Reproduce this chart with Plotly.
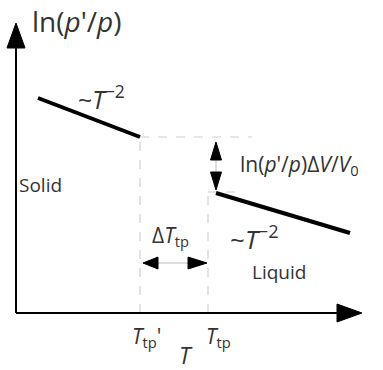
import plotly.graph_objects as go

# Chart coordinates: x is temperature T, y is ln(p'/p) (pixel-like units, y up)
W, H = 383, 370

# Axes
axis_origin = (16, 57)
x_axis_end = 362
y_axis_end = 347

# Coexistence lines (~T^-2 branches)
solid_T = [38, 140]
solid_lnp = [272, 233]
liquid_T = [216, 350]
liquid_lnp = [177, 137]

# Triple-point temperatures
T_tp_prime = 140
T_tp = 208

# Tick labels
tick_labels = ["<i>T</i><sub>tp</sub>'", "<i>T</i><sub>tp</sub>"]
tick_positions = [T_tp_prime + 6, T_tp + 10]

FONT = "Open Sans"
TXT = "#333333"
DASH = "#d0d0d0"

fig = go.Figure()

def line(xs, ys, color="black", width=2, dash=None):
    fig.add_trace(go.Scatter(x=xs, y=ys, mode="lines",
                             line=dict(color=color, width=width, dash=dash),
                             hoverinfo="skip", showlegend=False))

def tri(tip, direction, length, half):
    tx, ty = tip
    if direction == "up":
        xs = [tx, tx - half, tx + half, tx]
        ys = [ty, ty - length, ty - length, ty]
    elif direction == "down":
        xs = [tx, tx - half, tx + half, tx]
        ys = [ty, ty + length, ty + length, ty]
    elif direction == "right":
        xs = [tx, tx - length, tx - length, tx]
        ys = [ty, ty + half, ty - half, ty]
    else:
        xs = [tx, tx + length, tx + length, tx]
        ys = [ty, ty + half, ty - half, ty]
    fig.add_trace(go.Scatter(x=xs, y=ys, mode="lines", fill="toself",
                             fillcolor="black", line=dict(color="black", width=1),
                             hoverinfo="skip", showlegend=False))

ox, oy = axis_origin

# Guide lines (dashed)
line([T_tp_prime, T_tp_prime], [oy, solid_lnp[1]], DASH, 1.2, "dash")
line([T_tp_prime, 252], [solid_lnp[1], solid_lnp[1]], DASH, 1.2, "dash")
line([T_tp, T_tp], [oy, liquid_lnp[0] + 1], DASH, 1.2, "dash")
line([T_tp, 242], [liquid_lnp[0] + 1, liquid_lnp[0] + 1], DASH, 1.2, "dash")

# Axes with arrowheads
line([ox, x_axis_end - 20], [oy, oy], "black", 2)
line([ox, ox], [oy, y_axis_end - 20], "black", 2)
tri((x_axis_end, oy), "right", 25, 9)
tri((ox, y_axis_end), "up", 25, 9)

# Phase boundary lines
line(solid_T, solid_lnp, "black", 4)
line(liquid_T, liquid_lnp, "black", 4)

# Volume-change double arrow
vx = 216
line([vx, vx], [210, 198], "#bbbbbb", 1)
tri((vx, solid_lnp[1] - 5), "up", 18, 5.5)
tri((vx, liquid_lnp[0] + 3), "down", 18, 5.5)

# Triple-point shift double arrow
hy = 107
line([157, 190], [hy, hy], "#bbbbbb", 1)
tri((143, hy), "left", 15, 6)
tri((207, hy), "right", 19, 6)

def label(x, y, text, size, xanchor="left", yanchor="middle", yshift=0):
    fig.add_annotation(x=x, y=y, text=text, showarrow=False,
                       xanchor=xanchor, yanchor=yanchor, yshift=yshift,
                       font=dict(family=FONT, size=size, color=TXT))

label(30, 349, "ln(<i>p</i>'/<i>p</i>)", 28)
label(76, 273, "~<i>T</i><sup>−2</sup>", 25)
label(228, 132, "~<i>T</i><sup>−2</sup>", 26)
label(17, 185, "Solid", 19)
label(250, 98, "Liquid", 19)
label(150, 134, "Δ<i>T</i><sub>tp</sub>", 21)
label(238, 205, "ln(<i>p</i>'/<i>p</i>)Δ<i>V</i>/<i>V</i><sub>0</sub>", 21)
for pos, txt in zip(tick_positions, tick_labels):
    label(pos, 33, txt, 21, xanchor="center")
label(186, 1, "<i>T</i>", 23, xanchor="center", yanchor="bottom", yshift=-4)

fig.update_layout(
    width=W, height=H,
    margin=dict(l=0, r=0, t=0, b=0),
    paper_bgcolor="white", plot_bgcolor="white",
    xaxis=dict(range=[0, W], visible=False, fixedrange=True),
    yaxis=dict(range=[0, H], visible=False, fixedrange=True),
)

fig.write_html("out.html")
